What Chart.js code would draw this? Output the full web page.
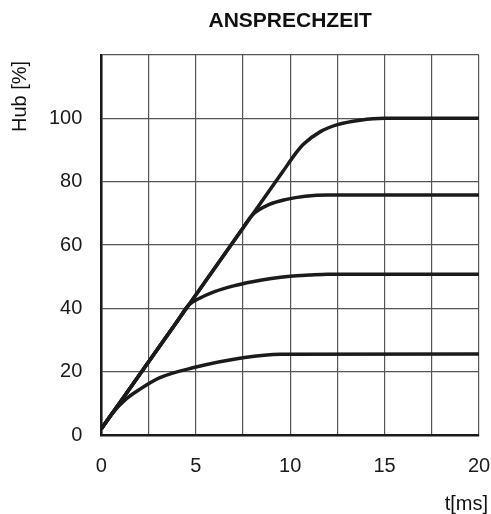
<!DOCTYPE html>
<html>
<head>
<meta charset="utf-8">
<script src="https://cdn.jsdelivr.net/npm/chart.js@4.4.0/dist/chart.umd.min.js"></script>
<style>
  html, body { margin: 0; padding: 0; background: #fff; }
  canvas { display: block; }
</style>
</head>
<body>
<canvas id="myChart" width="491" height="514"></canvas>
<script>
'use strict';
let chartTitle = 'ANSPRECHZEIT';
let xTitle = 't[ms]';
let yTitle = 'Hub [%]';

// each curve: time [ms] and stroke [%]
let t100 = [0, 5, 9.6, 10.3, 10.7, 11.6, 12.5, 13.7, 15, 20];
let hub100 = [2, 44.2, 83.1, 89, 91.8, 95.8, 98, 99.4, 100, 100];
let t76 = [0, 5, 7.5, 8, 8.9, 9.8, 10.8, 12, 20];
let hub76 = [2, 44.2, 65.4, 69.5, 72.8, 74.4, 75.4, 75.8, 75.8];
let t51 = [0, 2.5, 4, 4.6, 5.2, 6, 7, 8, 9, 10, 11, 12, 20];
let hub51 = [2, 23.1, 35.8, 40.9, 43.2, 45.3, 47.1, 48.4, 49.4, 50.1, 50.5, 50.8, 50.8];
let t25 = [0, 0.6, 1.3, 2, 3.1, 4.9, 7.5, 9.5, 20];
let hub25 = [2, 7, 11.3, 14.3, 18.1, 21.3, 24.4, 25.5, 25.6];

let xMin = 0, xMax = 20, xStep = 2.5, xLabelStep = 5;
let yMin = 0, yMax = 120, yStep = 20, yLabelMax = 100;

function toPoints(xs, ys) {
  let pts = [];
  for (let i = 0; i < xs.length; i++) {
    pts.push({ x: xs[i], y: ys[i] });
  }
  return pts;
}

function curve(xs, ys) {
  return {
    data: toPoints(xs, ys),
    borderColor: '#1c1a1a',
    borderWidth: 3.5,
    pointRadius: 0,
    fill: false,
    cubicInterpolationMode: 'monotone'
  };
}

// no extra room for the overflowing end labels
function noOverflow(scale) {
  scale.paddingLeft = 0;
  scale.paddingRight = 0;
  scale.paddingTop = 0;
  scale.paddingBottom = 0;
}

let textPlugin = {
  id: 'texts',
  afterDraw(chart) {
    let ctx = chart.ctx;
    let area = chart.chartArea;
    ctx.save();
    ctx.fillStyle = '#111';
    ctx.textBaseline = 'alphabetic';
    ctx.font = 'bold 21px "Liberation Sans", Arial, sans-serif';
    ctx.textAlign = 'center';
    ctx.fillText(chartTitle, (area.left + area.right) / 2, 27);

    ctx.font = '20px "Liberation Sans", Arial, sans-serif';
    ctx.textAlign = 'right';
    ctx.fillText(xTitle, 488, 510);

    ctx.translate(26, 132);
    ctx.rotate(-Math.PI / 2);
    ctx.textAlign = 'left';
    ctx.fillText(yTitle, 0, 0);
    ctx.restore();
  }
};

let ctx = document.getElementById('myChart').getContext('2d');
let myChart = new Chart(ctx, {
  type: 'line',
  data: {
    datasets: [curve(t100, hub100), curve(t76, hub76), curve(t51, hub51), curve(t25, hub25)]
  },
  options: {
    responsive: false,
    animation: false,
    devicePixelRatio: 1,
    layout: { padding: { left: 30, right: 12, top: 55, bottom: 17 } },
    plugins: {
      legend: { display: false },
      tooltip: { enabled: false }
    },
    scales: {
      x: {
        type: 'linear',
        min: xMin,
        max: xMax,
        afterFit: noOverflow,
        border: { display: true, color: '#1a1a1a', width: 2.5 },
        grid: { color: '#555', lineWidth: 1.2, drawTicks: false },
        ticks: {
          stepSize: xStep,
          padding: 19,
          color: '#1a1a1a',
          font: { family: '"Liberation Sans", Arial, sans-serif', size: 20 },
          maxRotation: 0,
          autoSkip: false,
          callback: function (v) { return v % xLabelStep === 0 ? v : ''; }
        }
      },
      y: {
        min: yMin,
        max: yMax,
        afterFit: noOverflow,
        border: { display: true, color: '#1a1a1a', width: 2.5 },
        grid: { color: '#555', lineWidth: 1.2, drawTicks: false },
        ticks: {
          stepSize: yStep,
          padding: 19,
          color: '#1a1a1a',
          font: { family: '"Liberation Sans", Arial, sans-serif', size: 20 },
          callback: function (v) { return v <= yLabelMax ? v : ''; }
        }
      }
    }
  },
  plugins: [textPlugin]
});
</script>
</body>
</html>
